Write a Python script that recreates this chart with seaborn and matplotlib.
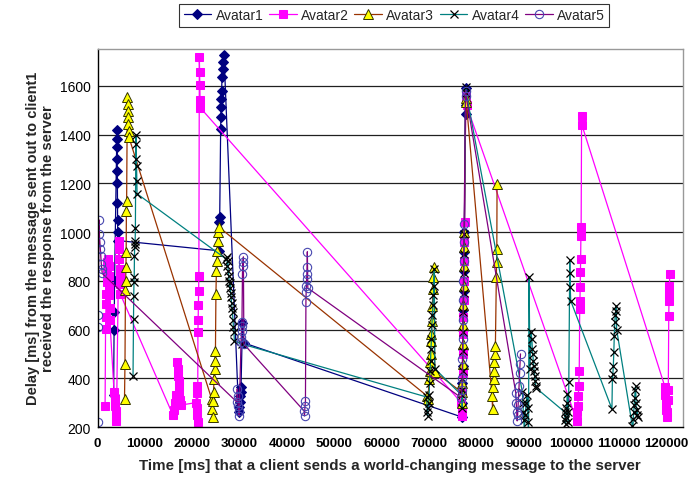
import matplotlib
matplotlib.use("Agg")
import matplotlib.pyplot as plt
import seaborn as sns

# Avatar1 (time in ms, delay in ms)
avatar1_time = [3400, 3500, 3550, 3600, 4100, 4120, 4140, 4160, 4180, 4200, 4220, 4240, 4260, 4300,
                25700, 25750, 25800, 26000, 26050, 26100, 26150, 26200, 26300, 26400, 26500, 26700,
                29800, 29900, 30000, 30100, 30200, 30300, 30600, 30900,
                76900, 77000, 77050, 77100, 77150, 77200, 77250, 77300, 77350, 77400, 77450, 77700, 77750, 77800]
avatar1_delay = [330, 600, 670, 800, 1420, 1380, 1350, 1300, 1250, 1200, 1120, 1050, 1000, 965,
                 923, 1042, 1062, 1424, 1473, 1514, 1547, 1580, 1637, 1670, 1699, 1728,
                 262, 282, 303, 327, 344, 364, 627, 545,
                 241, 300, 380, 450, 520, 600, 680, 760, 840, 920, 1000, 1590, 1520, 1485]

# Avatar2
avatar2_time = [1600, 1700, 1750, 1800, 1850, 1900, 1950, 2000, 2300, 2350, 2400, 2450, 2500, 2550, 2600,
                3500, 3600, 3700, 3800, 3900, 4000, 4500, 4550, 4600, 4650, 4700, 4750, 4800,
                15900, 16100, 16300, 16500, 16700, 16900, 17000, 17100, 17200, 17300, 17400, 17600,
                20800, 20900, 21000, 21050, 21100, 21150, 21200, 21250, 21300, 21350, 21400,
                21500, 21550, 21600, 21650, 21700,
                76800, 76900, 77000, 77050, 77100, 77150, 77200, 77250, 77300, 77350, 77400, 77450, 77500,
                77750, 77900,
                101200, 101300, 101400, 101500, 101600, 101700, 101800, 101850, 101900, 101950, 102000,
                102050, 102100, 102200, 102250,
                119800, 119900, 120000, 120100, 120200, 120300, 120400, 120500, 120600, 120650, 120700,
                120750, 120800]
avatar2_delay = [286, 602, 652, 705, 746, 795, 836, 877, 890, 860, 820, 780, 740, 690, 640,
                 343, 315, 286, 266, 245, 225, 964, 931, 890, 849, 820, 787, 746,
                 250, 270, 300, 330, 467, 440, 410, 390, 370, 340, 310, 290,
                 300, 368, 340, 280, 250, 220, 590, 640, 700, 760, 820,
                 1719, 1658, 1604, 1543, 1510,
                 300, 260, 245, 350, 420, 500, 580, 650, 720, 800, 880, 960, 1040,
                 1560, 1520,
                 225, 262, 286, 327, 368, 430, 685, 718, 775, 836, 890,
                 985, 1021, 1477, 1440,
                 364, 330, 300, 270, 241, 260, 310, 350, 656, 718, 746,
                 779, 828]

# Avatar3
avatar3_time = [5700, 5800, 5900, 5950, 6000, 6050, 6100, 6150, 6300, 6350, 6400, 6450, 6500, 6550, 6600,
                24100, 24200, 24300, 24400, 24500, 24600, 24700, 24800, 24900, 25000, 25100, 25200,
                25300, 25400, 25500, 25600,
                69600, 69800, 70000, 70100, 70200, 70300, 70400, 70500, 70600, 70700, 70800, 70900,
                71000, 71200,
                76900, 77000, 77050, 77100, 77150, 77200, 77250, 77300, 77350, 77400, 77450, 77750, 77850,
                83300, 83400, 83500, 83600, 83700, 83800, 83900, 84000, 84200, 84250, 84300, 84350]
avatar3_delay = [315, 459, 764, 801, 858, 916, 1088, 1129, 1555, 1527, 1498, 1473, 1444, 1416, 1391,
                 315, 274, 241, 307, 344, 397, 438, 471, 512, 746, 841, 882,
                 923, 964, 1000, 1021,
                 327, 315, 397, 430, 467, 500, 553, 582, 635, 697, 767, 816,
                 857, 426,
                 343, 300, 380, 460, 540, 620, 700, 780, 860, 940, 1000, 1550, 1535,
                 327, 274, 364, 397, 430, 467, 500, 533, 816, 878, 931, 1198]

# Avatar4
avatar4_time = [7500, 7600, 7650, 7700, 7750, 7800, 7850, 7900, 7950, 8000, 8100, 8150, 8200, 8250, 8300, 8350,
                27100, 27300, 27400, 27500, 27600, 27700, 27800, 27900, 28000, 28100, 28200, 28300,
                28400, 28500, 28600, 28700, 28800, 28900, 30400,
                69500, 69600, 69700, 69800, 69900, 70000, 70100, 70200, 70300, 70400, 70500, 70600,
                70700, 70800, 70900, 71000, 71100, 71200,
                76900, 77000, 77050, 77100, 77150, 77200, 77250, 77300, 77350, 77400, 77450, 77700, 77850,
                89700, 89800, 89900, 90000, 90100, 90300, 90500, 90700, 90800, 90900, 91000, 91100,
                91300, 91500, 91700, 91800, 91900, 92000, 92100, 92200, 92300, 92400, 92500, 92600,
                98600, 98700, 98800, 98900, 99000, 99100, 99200, 99300, 99400, 99500, 99700, 99750,
                99800, 99900,
                108600, 108700, 108800, 108900, 109000, 109100, 109200, 109300, 109400, 109500, 109600,
                112900, 113000, 113100, 113200, 113300, 113400, 113500, 113600, 113700, 113800, 113900, 114000]
avatar4_delay = [409, 643, 738, 796, 816, 902, 939, 951, 964, 1017, 1399, 1362, 1301, 1272, 1210, 1157,
                 890, 898, 860, 880, 840, 820, 800, 770, 790, 750, 735, 710,
                 690, 670, 640, 610, 590, 553, 541,
                 323, 262, 245, 280, 300, 330, 380, 430, 470, 520, 560, 620,
                 660, 700, 740, 780, 849, 440,
                 330, 280, 350, 430, 510, 590, 670, 750, 830, 910, 990, 1595, 1570,
                 343, 300, 260, 230, 180, 250, 300, 330, 280, 220, 180, 816,
                 440, 590, 560, 520, 500, 470, 450, 430, 410, 390, 370, 360,
                 262, 230, 212, 240, 280, 300, 335, 260, 220, 385, 886, 832,
                 775, 718,
                 274, 397, 418, 451, 508, 574, 630, 660, 677, 697, 600,
                 205, 150, 233, 260, 290, 320, 350, 368, 300, 250, 270, 240]

# Avatar5
avatar5_time = [0, 100, 150, 300, 400, 500, 600, 700, 800, 900, 1000,
                29400, 29500, 29600, 29700, 29800, 29900, 30300, 30350, 30400, 30450, 30500, 30600,
                30650, 30700, 30800, 30900,
                43600, 43700, 43800, 43900, 44000, 44050, 44100, 44150, 44200, 44250, 44300, 44400,
                76800, 76900, 77000, 77050, 77100, 77150, 77200, 77250, 77300, 77350, 77400, 77700, 77800,
                88300, 88400, 88500, 88600, 88700, 88800, 88900, 89000, 89100, 89200, 89300]
avatar5_delay = [220, 660, 610, 1050, 990, 960, 930, 900, 870, 850, 830,
                 303, 356, 327, 286, 266, 245, 549, 570, 594, 615, 631, 828,
                 861, 877, 898, 540,
                 266, 245, 286, 307, 713, 754, 779, 808, 828, 857, 919, 770,
                 320, 350, 400, 480, 560, 640, 720, 800, 880, 960, 1034, 1580, 1560,
                 340, 300, 260, 225, 250, 290, 330, 370, 420, 460, 500]

series = [
    ("Avatar1", avatar1_time, avatar1_delay,
     dict(color="#000080", marker="D", markersize=5, markerfacecolor="#000080", markeredgecolor="#000080")),
    ("Avatar2", avatar2_time, avatar2_delay,
     dict(color="#FF00FF", marker="s", markersize=5.5, markerfacecolor="#FF00FF", markeredgecolor="#FF00FF")),
    ("Avatar3", avatar3_time, avatar3_delay,
     dict(color="#993300", marker="^", markersize=6.5, markerfacecolor="#FFFF00", markeredgecolor="#333300",
          markeredgewidth=0.7)),
    ("Avatar4", avatar4_time, avatar4_delay,
     dict(color="#008080", marker="x", markersize=5.5, markeredgecolor="#000000", markeredgewidth=0.9)),
    ("Avatar5", avatar5_time, avatar5_delay,
     dict(color="#800080", marker="o", markersize=6, markerfacecolor="none", markeredgecolor="#4848B0",
          markeredgewidth=0.8)),
]

sns.set_style("white")
plt.rcParams["font.family"] = ["Liberation Sans", "DejaVu Sans"]

fig = plt.figure(figsize=(6.94, 4.81), dpi=100)
ax = fig.add_axes([97.5 / 694, 1 - 428 / 481, 585 / 694, 378.5 / 481])

for name, t, d, style in series:
    sns.lineplot(x=t, y=d, ax=ax, sort=False, estimator=None, label=name,
                 linewidth=0.9, **style)

ax.set_xlim(0, 123500)
ax.set_ylim(200, 1753)
ax.set_xticks(range(0, 120001, 10000))
ax.set_yticks(range(200, 1601, 200))
for y in range(400, 1601, 200):
    ax.axhline(y, color="#202020", linewidth=0.9, zorder=0)

ax.tick_params(axis="y", direction="inout", length=6, labelsize=10, pad=2, colors="black")
ax.tick_params(axis="x", direction="out", length=4, labelsize=9.5, pad=3, colors="black")
for lbl in ax.get_xticklabels():
    lbl.set_fontweight("bold")

for side in ["left", "bottom"]:
    ax.spines[side].set_color("black")
    ax.spines[side].set_linewidth(1)
for side in ["top", "right"]:
    ax.spines[side].set_color("#999999")
    ax.spines[side].set_linewidth(1)

ax.set_xlabel("Time [ms] that a client sends a world-changing message to the server",
              fontsize=10.9, fontweight="bold")
ax.set_ylabel("Delay [ms] from the message sent out to client1\nreceived the response from the server",
              fontsize=10.5, fontweight="bold", linespacing=1.05)
ax.xaxis.set_label_coords(0.5, -0.083)
ax.yaxis.set_label_coords(-0.073, 0.5)

ax.get_legend().remove()
handles, labels = ax.get_legend_handles_labels()
leg = fig.legend(handles, labels, loc="center", bbox_to_anchor=(0.568, 0.966), ncol=5,
                 frameon=True, fancybox=False, edgecolor="black", fontsize=10,
                 handlelength=2.0, handletextpad=0.3, columnspacing=0.4, borderpad=0.3)
leg.get_frame().set_linewidth(0.8)

fig.savefig("out.png", dpi=100)
